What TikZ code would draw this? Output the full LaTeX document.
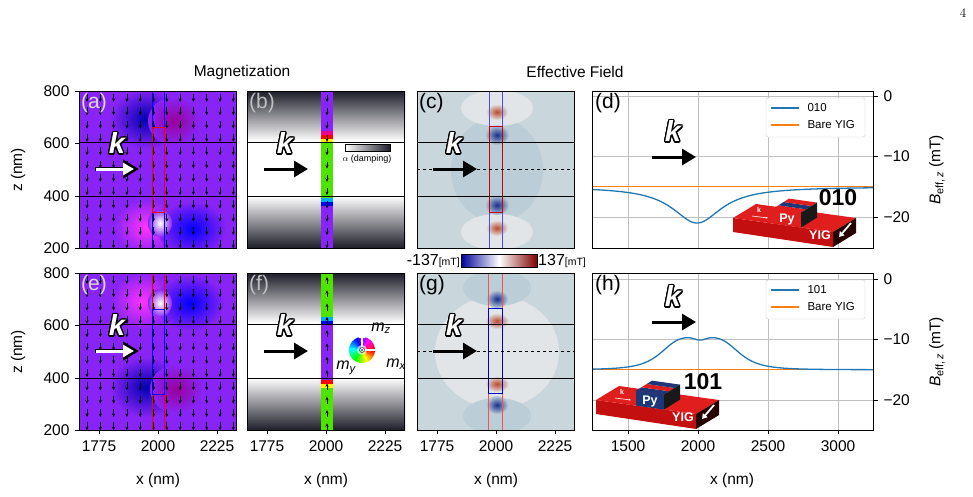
\documentclass[tikz,border=0pt]{standalone}
\usepackage{fontspec}
\setsansfont{Liberation Sans}
\usepackage{contour}
\contourlength{1.3pt}
\usetikzlibrary{arrows.meta}
\definecolor{mviol}{RGB}{136,36,245}
\definecolor{mblue}{RGB}{31,119,180}
\definecolor{morange}{RGB}{255,127,14}
\definecolor{fbg}{RGB}{201,214,220}
\definecolor{fdark}{RGB}{187,205,214}
\definecolor{flight}{RGB}{226,229,231}
\definecolor{fred}{RGB}{185,75,45}
\definecolor{fblu}{RGB}{25,45,140}
\definecolor{yred}{RGB}{225,30,30}
\definecolor{yredd}{RGB}{195,15,15}
\definecolor{pyb}{RGB}{30,55,120}
\definecolor{dgr}{RGB}{30,30,42}
\begin{document}
\begin{tikzpicture}[x=1pt,y=-1pt,
  tl/.style={font=\sffamily\fontsize{15.5}{17}\selectfont},
  pl/.style={font=\sffamily\fontsize{21}{22}\selectfont,anchor=north west,inner sep=0pt},
  marr/.style={-{Stealth[length=3.5pt,width=3pt]},line width=0.7pt,black},
  karr/.style={line width=3pt,-{Triangle[length=14pt,width=16pt]}},
  kt/.style={font=\sffamily\bfseries\itshape\fontsize{29}{29}\selectfont,inner sep=0pt}]
\useasboundingbox (0,0) rectangle (973,496);
\node[font=\fontsize{13}{14}\selectfont] at (963,13) {4};
\node[tl] (t1) at (242,72) {Magnetization};
\node[tl] (t2) at (575,72) {Effective Field};
\newcommand\kmark[3]{% x y colour
  \draw[karr,#3] (#1,#2) -- (#1+44,#2);
  \node[kt] at (#1+21,#2-25) {\contour{black}{\textcolor{white}{k}}};}
\newcommand\kmarkw[2]{%
  \draw[line width=4.6pt,-{Triangle[length=16pt,width=18pt]},black] (#1-1,#2) -- (#1+43,#2);
  \draw[karr,white,-{Triangle[length=11pt,width=12pt]}] (#1,#2) -- (#1+38,#2);
  \node[kt] at (#1+21,#2-25) {\contour{black}{\textcolor{white}{k}}};}
% ---------- magnetization panels (a),(e)
\foreach \R/\top in {0/91,1/273}{
 \begin{scope}
  \clip (79,\top) rectangle (237,\top+157);
  \fill[mviol] (79,\top) rectangle (237,\top+157);
  \ifnum\R=0
   \shade[inner color=blue!70!black,outer color=mviol] (146,\top+28) ellipse (36 and 30);
   \shade[inner color=magenta!60!black,outer color=mviol] (174,\top+30) ellipse (26 and 24);
   \shade[inner color=magenta!80,outer color=mviol] (146,\top+136) ellipse (32 and 28);
   \shade[inner color=blue,outer color=mviol] (192,\top+138) ellipse (34 and 28);
   \shade[inner color=white,outer color=mviol] (160,\top+132) ellipse (12 and 14);
  \else
   \shade[inner color=magenta!80,outer color=mviol] (143,\top+28) ellipse (32 and 28);
   \shade[inner color=blue,outer color=mviol] (190,\top+30) ellipse (34 and 28);
   \shade[inner color=white,outer color=mviol] (160,\top+30) ellipse (12 and 14);
   \shade[inner color=blue!70!black,outer color=mviol] (146,\top+114) ellipse (36 and 30);
   \shade[inner color=magenta!60!black,outer color=mviol] (176,\top+116) ellipse (26 and 24);
  \fi
  \foreach \i in {0,...,11}\foreach \j in {0,...,11}
    \draw[marr] (87+\i*13.3,\top+3+\j*13.3) -- (87+\i*13.3,\top+11+\j*13.3);
 \end{scope}
}
\draw[blue] (152,91) -- (152,248) (164,91) -- (164,248);
\draw[red] (152,127) rectangle (164,212);
\draw[red] (152,273) -- (152,430) (164,273) -- (164,430);
\draw[blue] (152,309) rectangle (164,394);
% ---------- damping panels (b),(f)
\foreach \R/\top in {0/91,1/273}{
 \shade[top color=dgr,bottom color=white] (247,\top) rectangle (405,\top+50);
 \shade[top color=white,bottom color=dgr] (247,\top+105) rectangle (405,\top+157);
}
% strip (b)
\fill[mviol] (321,91) rectangle (333,248);
\fill[green!85!black!70!yellow] (321,143) rectangle (333,198);
\fill[yellow] (321,139) rectangle (333,143);
\fill[red] (321,135) rectangle (333,139);
\fill[magenta] (321,131) rectangle (333,135);
\fill[cyan] (321,198) rectangle (333,202);
\fill[blue] (321,202) rectangle (333,206);
% strip (f)
\fill[green!85!black!70!yellow] (321,273) rectangle (333,430);
\fill[mviol] (321,325) rectangle (333,380);
\fill[blue] (321,321) rectangle (333,325);
\fill[cyan] (321,317) rectangle (333,321);
\fill[red] (321,380) rectangle (333,384);
\fill[yellow] (321,384) rectangle (333,388);
\foreach \j in {0,...,11}{
 \draw[marr] (327,95+\j*13.3) -- (327,102+\j*13.3);
 \draw[marr] (327,284+\j*13.3) -- (327,277+\j*13.3);}
% damping colourbar
\shade[left color=white,right color=dgr,draw=black,line width=0.6pt] (345,144) rectangle (390,151);
\node[font=\sffamily\fontsize{9}{10}\selectfont] at (367,159) {$\alpha$ (damping)};
% colour wheel
\foreach \h in {0,10,...,350}{
 \definecolor{wc}{Hsb}{\h,1,1}
 \fill[wc] (362,350) -- ++(\h:13) arc (\h:\h+11:13) -- cycle;}
\fill[white,opacity=0.6] (362,350) circle (5);
\draw[white,line width=1.2pt,-{Triangle[open,length=6pt,width=6pt]}] (362,350) -- (362,332);
\draw[white,line width=1.2pt,-{Triangle[open,length=6pt,width=6pt]}] (362,350) -- (382,350);
\draw[black] (362,350) circle (2.5); \fill (362,350) circle (0.8);
\node[font=\sffamily\itshape\fontsize{16}{16}\selectfont] at (381,328) {m\textsubscript{z}};
\node[font=\sffamily\itshape\fontsize{16}{16}\selectfont] at (396,364) {m\textsubscript{x}};
\node[font=\sffamily\itshape\fontsize{16}{16}\selectfont] at (346,368) {m\textsubscript{y}};
% ---------- field panels (c),(g)
\begin{scope}
 \clip (417,91) rectangle (574,248);
 \fill[fbg] (417,91) rectangle (574,248);
 \fill[fdark] (497,170) ellipse (46 and 52);
 \fill[flight] (497,108) ellipse (36 and 18);
 \fill[flight] (497,232) ellipse (36 and 18);
 \shade[inner color=fred,outer color=flight] (497,112) ellipse (11 and 8);
 \shade[inner color=fred,outer color=flight] (497,228) ellipse (11 and 8);
 \shade[inner color=fblu,outer color=fdark] (497,135) ellipse (12 and 10);
 \shade[inner color=fblu,outer color=fdark] (497,205) ellipse (12 and 10);
\end{scope}
\begin{scope}
 \clip (417,273) rectangle (574,430);
 \fill[fbg] (417,273) rectangle (574,430);
 \fill[flight] (497,352) ellipse (62 and 56);
 \fill[fdark] (497,288) ellipse (34 and 18);
 \fill[fdark] (497,416) ellipse (34 and 18);
 \shade[inner color=fblu,outer color=fdark] (497,299) ellipse (11 and 9);
 \shade[inner color=fblu,outer color=fdark] (497,405) ellipse (11 and 9);
 \shade[inner color=fred,outer color=flight] (497,321) ellipse (12 and 8);
 \shade[inner color=fred,outer color=flight] (497,384) ellipse (12 and 8);
\end{scope}
\draw[blue!70,line width=0.9pt] (489,91) -- (489,248) (502,91) -- (502,248);
\draw[red!80!black,line width=0.9pt] (489,126) rectangle (502,212);
\draw[red!70,line width=0.9pt] (488,273) -- (488,430) (502,273) -- (502,430);
\draw[blue!80!black,line width=0.9pt] (488,308) rectangle (502,393);
\draw[dashed,line width=0.6pt] (417,169) -- (574,169) (417,351) -- (574,351);
% field colourbar
\shade[left color=blue!60!black,right color=red!50!black,middle color=white,draw=black] (461,254) rectangle (537,267);
\node[font=\sffamily\fontsize{16}{17}\selectfont,anchor=east,inner sep=1pt] (cbl) at (461,261) {-137\fontsize{10.5}{11}\selectfont[mT]};
\node[font=\sffamily\fontsize{16}{17}\selectfont,anchor=west,inner sep=1pt] (cbr) at (537,261) {137\fontsize{10.5}{11}\selectfont[mT]};
% film lines and frames (a)-(c),(e)-(g)
\foreach \X in {79,247,417}{
 \foreach \top in {91,273}{
  \draw[line width=0.6pt] (\X,\top+51) -- (\X+157,\top+51) (\X,\top+105) -- (\X+157,\top+105);
  \draw[line width=0.9pt] (\X,\top) rectangle (\X+157,\top+157);}
 \foreach \o/\lab in {20/1775,79/2000,138/2225}{
  \draw (\X+\o,430) -- (\X+\o,434);
  \node[tl,anchor=north] at (\X+\o,437) {\lab};}
 \node[tl] at (\X+79,480) {x (nm)};
}
\foreach \top in {91,273}{
 \foreach \k/\lab in {0/800,1/600,2/400,3/200}{
  \draw (79,\top+\k*52.4) -- (75,\top+\k*52.4);
  \node[tl,anchor=east] at (73,\top+\k*52.4) {\lab};}
 \node[tl,rotate=90] at (18,\top+79) {z (nm)};
}
% panel labels
\node[pl,text=black!15] at (81,93) {(a)};
\node[pl,text=black!25] at (249,93) {(b)};
\node[pl] at (419,93) {(c)};
\node[pl,text=black!15] at (81,275) {(e)};
\node[pl,text=black!25] at (249,275) {(f)};
\node[pl] at (419,275) {(g)};
% k arrows
\kmarkw{96}{169}
\kmark{264}{169}{black}
\kmark{433}{169}{black}
\kmarkw{96}{351}
\kmark{264}{351}{black}
\kmark{433}{351}{black}
% ---------- line plots (d),(h)
\foreach \top/\zy in {91/96,273/279}{
 \draw[black!25,line width=0.8pt] \foreach \gx in {628,698,768,838}{(\gx,\top) -- (\gx,\top+157)}
   \foreach \k in {0,1,2}{(592,\zy+\k*60.5) -- (873,\zy+\k*60.5)};
 \foreach \k/\lab in {0/0,1/−10,2/−20}{
  \draw (873,\zy+\k*60.5) -- (878,\zy+\k*60.5);
  \node[tl,anchor=west] at (880,\zy+\k*60.5) {\lab};}
 \node[tl,rotate=90] at (937,\top+79) {\textit{B}\textsubscript{eff,\,\textit{z}} (mT)};
 \draw[morange,line width=1.3pt] (592,\zy+90.7) -- (873,\zy+90.7);
}
\draw[mblue,line width=1.3pt] plot[domain=592:873,samples=150] (\x,{96+6.05*(15+6/(1+((\x-697)/30)^2))});
\draw[mblue,line width=1.3pt] plot[domain=592:873,samples=200] (\x,{279+6.05*(15-5.4/(1+((\x-700)/40)^4)+0.5*exp(-((\x-700)/8)^2))});
\foreach \top/\name in {91/010,273/101}{
 \draw[black!20,fill=white,rounded corners=2pt] (766,\top+7) rectangle (865,\top+46);
 \draw[mblue,line width=1.3pt] (771,\top+17) -- (799,\top+17);
 \draw[morange,line width=1.3pt] (771,\top+34) -- (799,\top+34);
 \node[font=\sffamily\fontsize{11.5}{12}\selectfont,anchor=west] at (804,\top+17) {\name};
 \node[font=\sffamily\fontsize{11.5}{12}\selectfont,anchor=west] at (804,\top+34) {Bare YIG};
 \draw[line width=0.9pt] (592,\top) rectangle (873,\top+157);
}
\foreach \o/\lab in {628/1500,698/2000,768/2500,838/3000}{
 \draw (\o,430) -- (\o,434);
 \node[tl,anchor=north] at (\o,437) {\lab};}
\node[tl] at (732,480) {x (nm)};
\node[pl] at (595,93) {(d)};
\node[pl] at (595,275) {(h)};
\kmark{652}{157}{black}
\kmark{652}{322}{black}
% ---------- insets
\newcommand\inset[4]{% shift x, y, front colour, mid colour
\begin{scope}[shift={(#1,#2)}]
 \fill[yredd] (0,0) -- (100,14) -- (100,29) -- (0,14) -- cycle;
 \fill[yred] (0,0) -- (23,-14) -- (123,0) -- (100,14) -- cycle;
 \fill[black!85!red] (100,14) -- (123,0) -- (123,15) -- (100,29) -- cycle;
 \draw[white,line width=1.8pt,-{Triangle[length=5pt,width=6pt]}] (118,5) -- (106,19);
 \fill[#3] (40,5.6) -- (68,9.6) -- (68,-5.4) -- (40,-9.4) -- cycle;
 \fill[#3] (40,-9.4) -- (68,-5.4) -- (73.3,-8.7) -- (45.3,-12.7) -- cycle;
 \fill[#4] (45.3,-12.7) -- (73.3,-8.7) -- (78.7,-12) -- (50.7,-16) -- cycle;
 \fill[#3] (50.7,-16) -- (78.7,-12) -- (84,-15.4) -- (56,-19.4) -- cycle;
 \fill[black!90] (68,9.6) -- (84,-0.4) -- (84,-15.4) -- (68,-5.4) -- cycle;
 \node[font=\sffamily\bfseries\fontsize{12.5}{12}\selectfont,white] at (54,1) {Py};
 \node[font=\sffamily\bfseries\fontsize{12.5}{12}\selectfont,white] at (87,17) {YIG};
 \node[font=\sffamily\bfseries\fontsize{7}{7}\selectfont,white] at (26,-8) {k};
 \draw[white,line width=0.6pt,-{Stealth[length=2.5pt]}] (19,-2) -- (35,0);
\end{scope}}
\inset{733}{218}{yred}{pyb}
\inset{596}{400}{pyb}{yred}
\node[font=\sffamily\bfseries\fontsize{23}{23}\selectfont] (l010) at (838,198) {010};
\node[font=\sffamily\bfseries\fontsize{23}{23}\selectfont] (l101) at (703,382) {101};
\end{tikzpicture}
\end{document}
